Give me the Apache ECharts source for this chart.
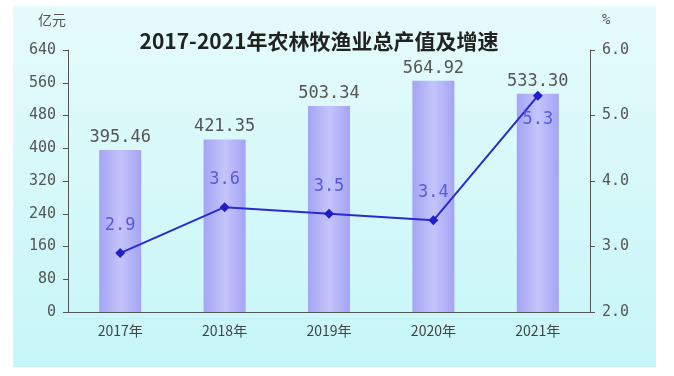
<!DOCTYPE html>
<html>
<head>
<meta charset="utf-8">
<script src="https://cdn.jsdelivr.net/npm/echarts@6/dist/echarts.min.js"></script>
<style>
  html, body { margin: 0; padding: 0; background: #fff; }
  #chart { width: 674px; height: 376px; }
</style>
</head>
<body>
<div id="chart"></div>
<script>
const years = ['2017年', '2018年', '2019年', '2020年', '2021年']
const output = [395.46, 421.35, 503.34, 564.92, 533.30]
const growth = [2.9, 3.6, 3.5, 3.4, 5.3]
const leftTicks = [0, 80, 160, 240, 320, 400, 480, 560, 640]
const rightTicks = [2.0, 3.0, 4.0, 5.0, 6.0]

const numFont = '"DejaVu Sans Mono", "Liberation Mono", monospace'
const cjkFont = '"Noto Sans CJK SC", sans-serif'

let myChart = echarts.init(document.getElementById('chart'))
let option = {
  backgroundColor: '#fff',
  animation: false,
  graphic: [
    {
      type: 'rect',
      z: -10,
      shape: { x: 13, y: 6, width: 643, height: 361 },
      style: {
        fill: new echarts.graphic.LinearGradient(0, 0, 0, 1, [
          { offset: 0, color: '#e6fbfb' },
          { offset: 1, color: '#c6f6f8' }
        ])
      }
    },
    {
      type: 'text', left: 38, top: 13,
      style: { text: '亿元', font: '14px ' + cjkFont, fill: '#555' }
    },
    {
      type: 'text', left: 602, top: 13,
      style: { text: '%', font: '14px ' + numFont, fill: '#555' }
    }
  ],
  title: {
    text: '2017-2021年农林牧渔业总产值及增速',
    left: 314,
    textAlign: 'center',
    top: 26,
    textStyle: { fontFamily: cjkFont, fontWeight: 'bold', fontSize: 21, color: '#222' }
  },
  grid: { left: 68, right: 84, top: 50, bottom: 64 },
  xAxis: {
    type: 'category',
    data: years,
    axisLine: { lineStyle: { color: '#555' } },
    axisTick: { inside: true, length: 6, lineStyle: { color: '#555' } },
    axisLabel: { color: '#444', fontSize: 14, fontFamily: cjkFont, margin: 12 }
  },
  yAxis: [
    {
      type: 'value',
      min: leftTicks[0],
      max: leftTicks[leftTicks.length - 1],
      interval: 80,
      splitLine: { show: false },
      axisLine: { show: true, lineStyle: { color: '#555' } },
      axisTick: { show: true, length: 5, lineStyle: { color: '#555' } },
      axisLabel: { color: '#555', fontSize: 15, fontFamily: numFont, margin: 12 }
    },
    {
      type: 'value',
      min: rightTicks[0],
      max: rightTicks[rightTicks.length - 1],
      interval: 1,
      splitLine: { show: false },
      axisLine: { show: true, lineStyle: { color: '#555' } },
      axisTick: { show: true, length: 5, lineStyle: { color: '#555' } },
      axisLabel: {
        color: '#555', fontSize: 15, fontFamily: numFont, margin: 12,
        formatter: function (v) { return v.toFixed(1) }
      }
    }
  ],
  series: [
    {
      type: 'bar',
      name: '总产值',
      data: output,
      barWidth: 42,
      itemStyle: {
        color: new echarts.graphic.LinearGradient(0, 0, 1, 0, [
          { offset: 0, color: '#a4a4f4' },
          { offset: 0.5, color: '#c4c4fc' },
          { offset: 1, color: '#a4a4f4' }
        ])
      },
      label: {
        show: true,
        position: 'top',
        distance: 4,
        color: '#555',
        fontSize: 17,
        fontFamily: numFont,
        formatter: function (p) { return p.value.toFixed(2) }
      }
    },
    {
      type: 'line',
      name: '增速',
      yAxisIndex: 1,
      data: growth.map(function (v, i) {
        return {
          value: v,
          label: i === growth.length - 1 ? { position: 'bottom', distance: 10 } : {}
        }
      }),
      symbol: 'diamond',
      symbolSize: 10,
      lineStyle: { color: '#2a2ad0', width: 2 },
      itemStyle: { color: '#1f1fc8' },
      label: {
        show: true,
        position: 'top',
        distance: 14,
        color: '#5a5ad8',
        fontSize: 17,
        fontFamily: numFont,
        formatter: function (p) { return p.value.toFixed(1) }
      }
    }
  ]
}
myChart.setOption(option)
window.addEventListener('resize', function () {
  myChart.resize()
})
</script>
</body>
</html>
